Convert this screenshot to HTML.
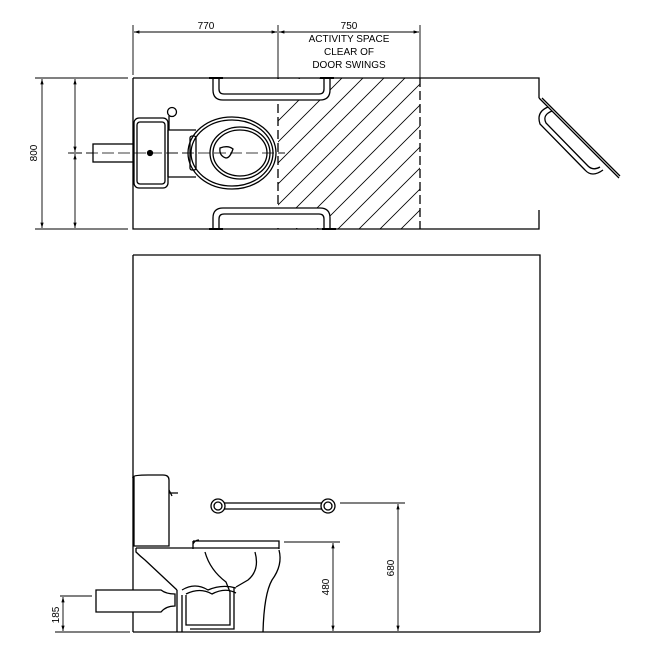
<!DOCTYPE html>
<html><head><style>body{margin:0;background:#fff}svg{display:block}</style></head><body>
<svg width="650" height="650" viewBox="0 0 650 650" xmlns="http://www.w3.org/2000/svg" font-family="Liberation Sans, sans-serif">
<defs>
<pattern id="hp" patternUnits="userSpaceOnUse" width="21" height="21">
<path d="M-2,23 L23,-2 M-2,2 L2,-2 M19,23 L23,19" stroke="#000" stroke-width="0.8"/>
</pattern>
<marker id="a" viewBox="0 0 10 10" refX="10" refY="5" markerWidth="8" markerHeight="6" orient="auto-start-reverse"><path d="M0,2 L10,5 L0,8 z" fill="#000"/></marker>
</defs>
<rect x="278" y="78" width="142" height="151" fill="url(#hp)"/>
<g stroke="#000" fill="none" stroke-width="1.3">
<path d="M133,78 H539 V98 M539,210 V229 H133 V78"/>
<path d="M278,78 V229 M420,78 V229" stroke-dasharray="9,4"/>
<path d="M133,25 V75 M278,25 V78 M420,25 V78" stroke-width="0.9"/>
<path d="M134,32 H277" marker-start="url(#a)" marker-end="url(#a)" stroke-width="0.9"/>
<path d="M279,32 H419" marker-start="url(#a)" marker-end="url(#a)" stroke-width="0.9"/>
<path d="M35,78 H128 M35,229 H128" stroke-width="0.9"/>
<path d="M42,79 V228" marker-start="url(#a)" marker-end="url(#a)" stroke-width="0.9"/>
<path d="M75,79 V152" marker-start="url(#a)" marker-end="url(#a)" stroke-width="0.9"/>
<path d="M75,154 V228" marker-start="url(#a)" marker-end="url(#a)" stroke-width="0.9"/>
<path d="M68,153 H82" stroke-width="0.9"/>
<path d="M70,153 H285" stroke-dasharray="12,4" stroke-width="0.8"/>
<rect x="93" y="144" width="40" height="18" fill="#fff"/>
<rect x="134" y="118" width="34" height="70" rx="5" fill="#fff"/>
<rect x="137" y="122" width="28" height="62" rx="3"/>
<path d="M168,130 H196 M168,177 H196 M168,130 V177"/>
<circle cx="172" cy="112" r="4.5"/><path d="M169,116 L169,130"/>
<ellipse cx="232" cy="153" rx="44" ry="36" fill="#fff"/>
<ellipse cx="232" cy="153" rx="41" ry="33"/>
<ellipse cx="240" cy="153" rx="30" ry="26"/>
<ellipse cx="240" cy="153" rx="27" ry="23"/>
<path d="M220,148 Q228,145 233,149 Q230,158 226,158 Q219,156 220,148z"/>
<rect x="190" y="136" width="6" height="34" rx="2"/>
<circle cx="150" cy="153" r="2.5" fill="#000"/>
<path d="M70,153 H285" stroke-dasharray="12,4" stroke-width="0.8"/>
<path d="M213,79 V90 Q213,100 223,100 H320 Q330,100 330,90 V79" fill="#fff"/>
<path d="M219,79 V89 Q219,94 224,94 H319 Q324,94 324,89 V79"/>
<path d="M209,78 H223 M320,78 H334" stroke-width="2"/>
<path d="M213,228 V218 Q213,208 223,208 H320 Q330,208 330,218 V228" fill="#fff"/>
<path d="M219,228 V219 Q219,214 224,214 H319 Q324,214 324,219 V228"/>
<path d="M209,229 H223 M322,229 H336" stroke-width="2"/>
<path d="M539,98 L619,178 M542,98 L620,176"/>
<path d="M548,107 Q536,112 540,124 L585,170 Q592,178 603,170 M552,111 Q542,115 546,123 L588,166 Q593,171 600,167"/>
<path d="M133,255 H540 V632 M133,255 V632 M133,632 H540"/>
<path d="M133,477 Q134,475 148,475 H163 Q169,475 169,480 V546 H134 V477z"/>
<path d="M169,493 H178 M169,490 L172,496"/>
<path d="M136,548 H279 M136,548 V552 Q140,556 145,560 L177,590"/>
<path d="M193,541 H279 V549 M193,541 V549 M193,544 Q195,540 199,540"/>
<path d="M279,550 Q283,565 272,580 Q264,594 263,632"/>
<path d="M177,590 V632 M182,595 V632"/>
<path d="M205,552 Q210,570 226,582 L230,592 V625 H186 V595 M234,587 V629 H190"/>
<path d="M182,590 Q195,582 208,590 Q222,584 236,588 M186,594 Q200,587 212,594 Q225,587 236,593"/>
<path d="M255,552 Q260,570 248,580 L236,587"/>
<path d="M96,590 H161 Q166,594 175,594 V606 Q166,606 161,612 H96 V590z" fill="#fff"/>
<path d="M218,503 H328 M218,509 H328"/>
<circle cx="218" cy="506" r="7" fill="#fff"/><circle cx="218" cy="506" r="4"/>
<circle cx="328" cy="506" r="7" fill="#fff"/><circle cx="328" cy="506" r="4"/>
<path d="M340,503 H405 M284,542 H340 M60,596 H92" stroke-width="0.9"/>
<path d="M398,504 V631" marker-start="url(#a)" marker-end="url(#a)" stroke-width="0.9"/>
<path d="M333,543 V631" marker-start="url(#a)" marker-end="url(#a)" stroke-width="0.9"/>
<path d="M63,597 V631" marker-start="url(#a)" marker-end="url(#a)" stroke-width="0.9"/>
<path d="M55,632 H130" stroke-width="0.9"/>
</g>
<g font-size="10" fill="#000" text-anchor="middle">
<text x="206" y="29">770</text>
<text x="349" y="29">750</text>
<text x="349" y="42">ACTIVITY SPACE</text>
<text x="349" y="55">CLEAR OF</text>
<text x="349" y="68">DOOR SWINGS</text>
<text transform="translate(37,153) rotate(-90)">800</text>
<text transform="translate(394,568) rotate(-90)">680</text>
<text transform="translate(329,587) rotate(-90)">480</text>
<text transform="translate(59,615) rotate(-90)">185</text>
</g>
</svg>
</body></html>
